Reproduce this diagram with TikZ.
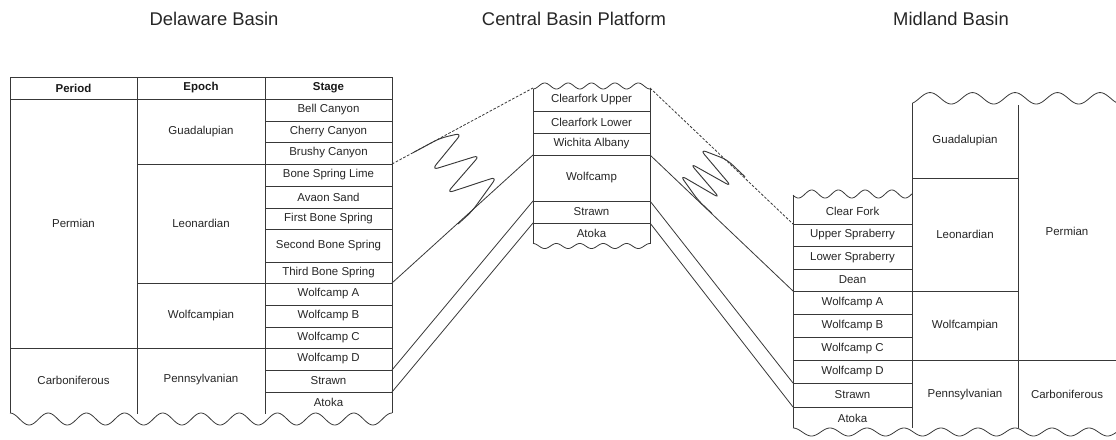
\documentclass[tikz,border=0pt]{standalone}
\usepackage{fontspec}
\setmainfont{Liberation Sans}
\begin{document}
\begin{tikzpicture}[x=0.75pt,y=-0.75pt]
\tikzset{
 ln/.style={draw=black!78, line width=0.6pt},
 txt/.style={font=\fontsize{8.6}{10}\selectfont, text=black!85, inner sep=0pt},
 hdr/.style={font=\fontsize{8.6}{10}\selectfont\bfseries, text=black!90, inner sep=0pt},
 ttl/.style={font=\fontsize{13.8}{16}\selectfont, text=black!85, inner sep=0pt},
 conn/.style={draw=black!78, line width=0.6pt},
 dconn/.style={conn, dash pattern=on 2pt off 1.2pt},
 squig/.style={conn, line width=0.7pt, rounded corners=5pt}
}
\useasboundingbox (0,0) rectangle (1116,439);

% titles
\node[ttl] (tdel) at (214,19) {Delaware Basin};
\node[ttl] (tcen) at (574,19) {Central Basin Platform};
\node[ttl] (tmid) at (951,19) {Midland Basin};

% ---------------- Delaware Basin table ----------------
\draw[ln] (10,413) -- (10,77) -- (392,77) -- (392,413);
\draw[ln] plot[domain=10:392, samples=240, smooth] (\x, {419-6*cos((\x-10)/38.2*360)});
\draw[ln] (137,77) -- (137,414);
\draw[ln] (265,77) -- (265,414);
\draw[ln] (10,99) -- (392,99);
\foreach \yy in {121,142,186,208,229,262,305,327,370,392} \draw[ln] (265,\yy) -- (392,\yy);
\draw[ln] (137,164) -- (392,164);
\draw[ln] (137,283) -- (392,283);
\draw[ln] (10,348) -- (392,348);

\node[hdr] (hper) at (73.5,88) {Period};
\node[hdr] (hepo) at (201,88) {Epoch};
\node[hdr] (hsta) at (328.5,88) {Stage};
\node[txt] (lperm) at (73.5,223.5) {Permian};
\node[txt] (lcarb) at (73.5,380) {Carboniferous};
\node[txt] (lguad) at (201,131.5) {Guadalupian};
\node[txt] (lleon) at (201,223.5) {Leonardian};
\node[txt] (lwolf) at (201,315.5) {Wolfcampian};
\node[txt] (lpenn) at (201,380) {Pennsylvanian};
\node[txt] (s1) at (328.5,110) {Bell Canyon};
\node[txt] (s2) at (328.5,131.5) {Cherry Canyon};
\node[txt] (s3) at (328.5,153) {Brushy Canyon};
\node[txt] (s4) at (328.5,175) {Bone Spring Lime};
\node[txt] (s5) at (328.5,197) {Avaon Sand};
\node[txt] (s6) at (328.5,218.5) {First Bone Spring};
\node[txt] (s7) at (328.5,245.5) {Second Bone Spring};
\node[txt] (s8) at (328.5,272.5) {Third Bone Spring};
\node[txt] (s9) at (328.5,294) {Wolfcamp A};
\node[txt] (s10) at (328.5,316) {Wolfcamp B};
\node[txt] (s11) at (328.5,337.5) {Wolfcamp C};
\node[txt] (s12) at (328.5,359) {Wolfcamp D};
\node[txt] (s13) at (328.5,381) {Strawn};
\node[txt] (s14) at (328.5,402) {Atoka};

% ---------------- Central Basin Platform ----------------
\draw[ln] (533,89) -- (533,243.5);
\draw[ln] (650,89) -- (650,243.5);
\draw[ln] plot[domain=533:650, samples=160, smooth] (\x, {86+3*cos((\x-533)/23.4*360)});
\draw[ln] plot[domain=533:650, samples=160, smooth] (\x, {246-2.5*cos((\x-533)/23.4*360)});
\foreach \yy in {111,133,155,201,223} \draw[ln] (533,\yy) -- (650,\yy);
\node[txt] (c1) at (591.5,99.5) {Clearfork Upper};
\node[txt] (c2) at (591.5,122) {Clearfork Lower};
\node[txt] (c3) at (591.5,144) {Wichita Albany};
\node[txt] (c4) at (591.5,178) {Wolfcamp};
\node[txt] (c5) at (591.5,212) {Strawn};
\node[txt] (c6) at (591.5,233.5) {Atoka};

% ---------------- Midland Basin ----------------
\draw[ln] (793,195.2) -- (793,428);
\draw[ln] plot[domain=793:912.5, samples=160, smooth] (\x, {194-4*cos((\x-811.7)/26.7*360)});
\draw[ln] (912.5,103) -- (912.5,428);
\draw[ln] (1018,105) -- (1018,428);
\draw[ln] plot[domain=912.5:1116, samples=220, smooth] (\x, {98.3-5.7*cos((\x-930)/42.5*360)});
\draw[ln] plot[domain=793:1116, samples=300, smooth] (\x, {432-4*cos((\x-793)/37*360)});
\foreach \yy in {224,246,269,314,337,383,407} \draw[ln] (793,\yy) -- (912.5,\yy);
\draw[ln] (793,291) -- (1018,291);
\draw[ln] (793,360) -- (1116,360);
\draw[ln] (912.5,178) -- (1018,178);

\node[txt] (m1) at (852.5,211) {Clear Fork};
\node[txt] (m2) at (852.5,235) {Upper Spraberry};
\node[txt] (m3) at (852.5,257.5) {Lower Spraberry};
\node[txt] (m4) at (852.5,280) {Dean};
\node[txt] (m5) at (852.5,302.5) {Wolfcamp A};
\node[txt] (m6) at (852.5,325.5) {Wolfcamp B};
\node[txt] (m7) at (852.5,348.5) {Wolfcamp C};
\node[txt] (m8) at (852.5,371.5) {Wolfcamp D};
\node[txt] (m9) at (852.5,395) {Strawn};
\node[txt] (m10) at (852.5,418) {Atoka};
\node[txt] (mguad) at (965,140.5) {Guadalupian};
\node[txt] (mleon) at (965,234.5) {Leonardian};
\node[txt] (mwolf) at (965,325.5) {Wolfcampian};
\node[txt] (mpenn) at (965,394.5) {Pennsylvanian};
\node[txt] (mperm) at (1067,231.5) {Permian};
\node[txt] (mcarb) at (1067,394.5) {Carboniferous};

% ---------------- connection points ----------------
\coordinate (Lbrushy) at (392,164);
\coordinate (Lthird) at (392,283);
\coordinate (LwcD) at (392,370);
\coordinate (Lstrawn) at (392,392);
\coordinate (Ctl) at (533,88);
\coordinate (Cwich) at (533,155);
\coordinate (Cwolf) at (533,201);
\coordinate (Cstrawn) at (533,223);
\coordinate (Ctr) at (650,88);
\coordinate (Rwich) at (650,155);
\coordinate (Rwolf) at (650,201);
\coordinate (Rstrawn) at (650,223);
\coordinate (Mcf) at (793,224);
\coordinate (Mdean) at (793,291);
\coordinate (MwcD) at (793,383);
\coordinate (Mstrawn) at (793,407);

\draw[dconn] (Lbrushy) -- (Ctl);
\draw[conn] (Lthird) -- (Cwich);
\draw[conn] (LwcD) -- (Cwolf);
\draw[conn] (Lstrawn) -- (Cstrawn);
\draw[dconn] (Ctr) -- (Mcf);
\draw[conn] (Rwich) -- (Mdean);
\draw[conn] (Rwolf) -- (MwcD);
\draw[conn] (Rstrawn) -- (Mstrawn);

% unconformity squiggles
\draw[squig] (413,152.7) -- (440,138.2) -- (462,133) -- (431.7,170) -- (480,155) -- (446.7,193.3) -- (497,176.7) -- (472,211.3) -- (458,224);
\draw[squig] (745,176.8) -- (727,159.7) -- (700,149.3) -- (731.7,186.7) -- (690,163.3) -- (720,198.3) -- (680,175) -- (698,200.2) -- (712,213.5);
\end{tikzpicture}
\end{document}
